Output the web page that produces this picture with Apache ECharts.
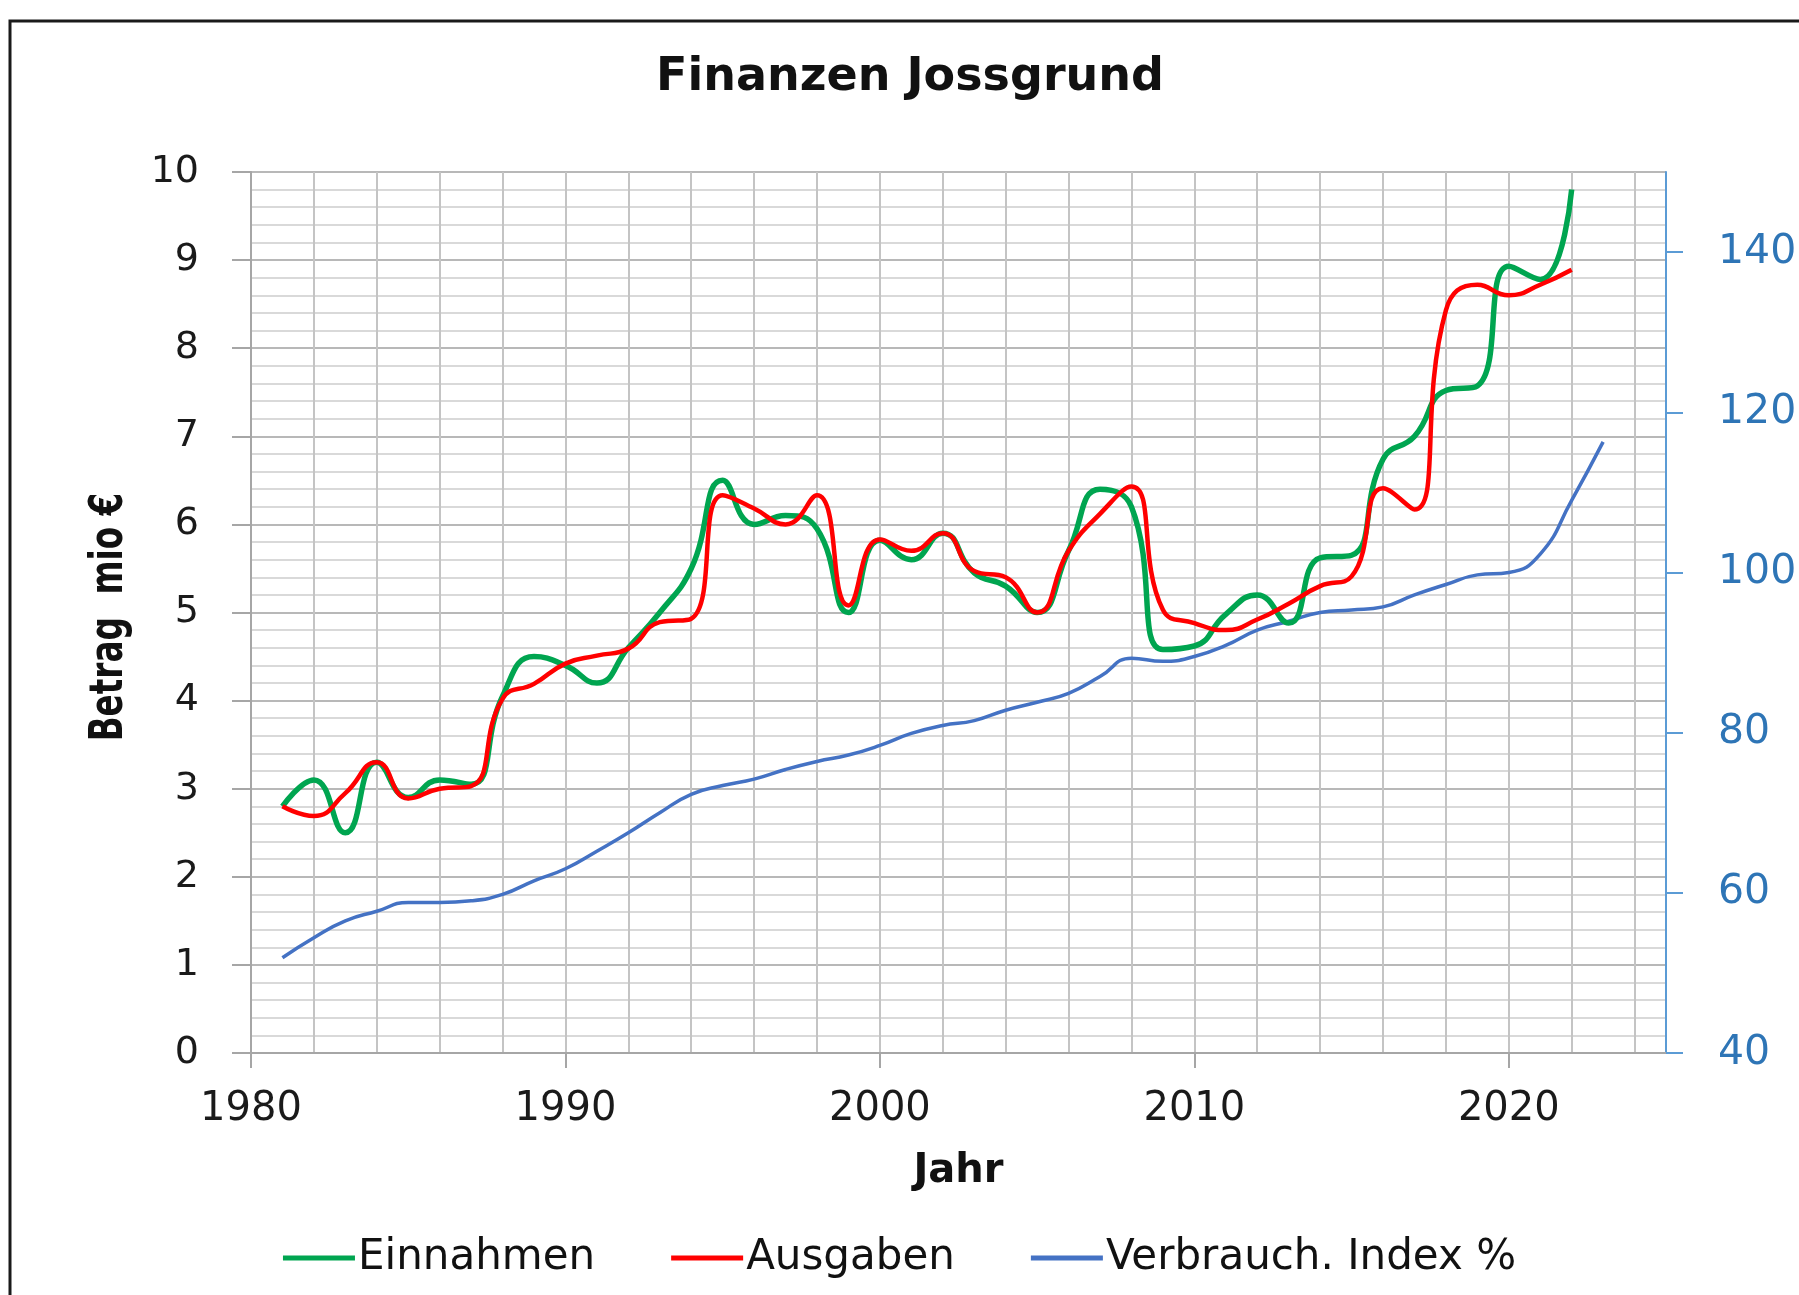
<!doctype html>
<html lang="de">
<head>
    <meta charset="UTF-8">
    <title>Finanzen Jossgrund</title>
    <style>
        html, body { margin: 0; padding: 0; background: #fff; }
        #chart { width: 1799px; height: 1295px; }
    </style>
</head>
<body>
    <div id="chart"></div>

    <script src="https://cdn.jsdelivr.net/npm/echarts@6/dist/echarts.min.js"></script>
    <script>
        // Jahre
        var jahre = [1981, 1982, 1983, 1984, 1985, 1986, 1987, 1988, 1989, 1990,
                     1991, 1992, 1993, 1994, 1995, 1996, 1997, 1998, 1999, 2000,
                     2001, 2002, 2003, 2004, 2005, 2006, 2007, 2008, 2009, 2010,
                     2011, 2012, 2013, 2014, 2015, 2016, 2017, 2018, 2019, 2020,
                     2021, 2022, 2023];

        // Betrag in mio € (1981 - 2022)
        var einnahmen = [2.8, 3.1, 2.5, 3.3, 2.9, 3.1, 3.05, 4.05, 4.5, 4.4,
                         4.2, 4.6, 5.0, 5.5, 6.5, 6.0, 6.1, 5.95, 5.0, 5.82,
                         5.6, 5.9, 5.45, 5.3, 5.0, 5.7, 6.4, 6.2, 4.58, 4.62,
                         4.98, 5.2, 4.88, 5.62, 5.65, 6.74, 7.0, 7.52, 7.57, 8.93,
                         8.78, 9.8];

        var ausgaben = [2.8, 2.69, 2.95, 3.3, 2.89, 3.0, 3.03, 4.02, 4.19, 4.42,
                        4.51, 4.59, 4.89, 4.93, 6.33, 6.18, 6.0, 6.33, 5.08, 5.83,
                        5.7, 5.9, 5.47, 5.4, 5.0, 5.7, 6.12, 6.43, 5.03, 4.88,
                        4.8, 4.92, 5.1, 5.3, 5.41, 6.41, 6.17, 8.43, 8.72, 8.6,
                        8.72, 8.89];

        // Verbraucherpreisindex % (1981 - 2023), rechte Achse
        var index = [51.9, 54.4, 56.5, 57.7, 58.8, 58.8, 59.0, 59.8, 61.5, 63.0,
                     65.2, 67.5, 70.0, 72.3, 73.4, 74.2, 75.4, 76.4, 77.2, 78.4,
                     79.9, 80.9, 81.5, 82.8, 83.8, 84.9, 87.0, 89.3, 88.9, 89.5,
                     90.9, 92.8, 93.9, 95.0, 95.3, 95.7, 97.2, 98.5, 99.7, 100.0,
                     102.3, 109.0, 116.3];

        // Achsenbeschriftungen
        var jahrLabels = [1980, 1990, 2000, 2010, 2020];
        var indexLabels = [40, 60, 80, 100, 120, 140];

        function paare(werte) {
            var out = [];
            for (var i = 0; i < werte.length; i++) {
                out.push([jahre[i], werte[i]]);
            }
            return out;
        }

        var font = 'DejaVu Sans';
        var myChart = echarts.init(document.getElementById('chart'));

        var option = {
            backgroundColor: '#fff',
            animation: false,
            title: {
                text: 'Finanzen Jossgrund',
                left: 905,
                textAlign: 'center',
                top: 50,
                textStyle: { fontFamily: font, fontSize: 46, fontWeight: 'bold', color: '#111' }
            },
            legend: {
                top: 1232,
                left: 'center',
                icon: 'rect',
                itemWidth: 72,
                itemHeight: 5,
                itemGap: 76,
                textStyle: { fontFamily: font, fontSize: 42, color: '#111', padding: [0, 0, 0, -2] },
                data: ['Einnahmen', 'Ausgaben', 'Verbrauch. Index %']
            },
            grid: {
                left: 251,
                right: 133,
                top: 172,
                bottom: 242,
                outerBoundsMode: 'none'
            },
            graphic: [
                {
                    type: 'rect',
                    z: -1,
                    shape: { x: 10, y: 21, width: 2000, height: 2000 },
                    style: { fill: 'none', stroke: '#1a1a1a', lineWidth: 3 }
                },
                {
                    type: 'text',
                    x: 110,
                    y: 617,
                    rotation: Math.PI / 2,
                    scaleX: 0.71,
                    style: {
                        text: 'Betrag  mio €',
                        fontFamily: font,
                        fontSize: 46,
                        fontWeight: 'bold',
                        fill: '#111',
                        align: 'center',
                        verticalAlign: 'middle'
                    }
                }
            ],
            xAxis: [
                {
                    // Gitterlinien alle 2 Jahre
                    type: 'value',
                    min: 1980,
                    max: 2025,
                    interval: 2,
                    axisLine: { show: false },
                    axisTick: { show: false },
                    axisLabel: { show: false },
                    splitLine: { show: true, lineStyle: { color: '#c4c4c4', width: 2 } }
                },
                {
                    type: 'value',
                    min: 1980,
                    max: 2025,
                    interval: 10,
                    position: 'bottom',
                    axisLine: { show: true, lineStyle: { color: '#a6a6a6', width: 2 } },
                    axisTick: { show: true, customValues: jahrLabels, length: 15, lineStyle: { color: '#a6a6a6', width: 2 } },
                    axisLabel: {
                        customValues: jahrLabels,
                        margin: 37,
                        fontFamily: font,
                        fontSize: 40,
                        color: '#1a1a1a',
                        formatter: function (v) { return String(v); }
                    },
                    splitLine: { show: false },
                    name: 'Jahr',
                    nameLocation: 'middle',
                    nameGap: 99,
                    nameTextStyle: { fontFamily: font, fontSize: 40, fontWeight: 'bold', color: '#111' }
                }
            ],
            yAxis: [
                {
                    type: 'value',
                    min: 0,
                    max: 10,
                    interval: 1,
                    axisLine: { show: true, lineStyle: { color: '#a6a6a6', width: 2 } },
                    axisTick: { show: true, length: 19, lineStyle: { color: '#a6a6a6', width: 2 } },
                    axisLabel: { margin: 52, fontFamily: font, fontSize: 38, color: '#1a1a1a' },
                    splitLine: { show: true, lineStyle: { color: '#b8b8b8', width: 2 } },
                    minorTick: { show: false, splitNumber: 5 },
                    minorSplitLine: { show: true, lineStyle: { color: '#d9d9d9', width: 2 } }
                },
                {
                    type: 'value',
                    min: 40,
                    max: 150,
                    interval: 20,
                    position: 'right',
                    axisLine: { show: true, lineStyle: { color: '#5b9bd5', width: 2 } },
                    axisTick: { show: true, customValues: indexLabels, length: 17, lineStyle: { color: '#5b9bd5', width: 2 } },
                    axisLabel: { customValues: indexLabels, margin: 52, fontFamily: font, fontSize: 41, color: '#2e75b6' },
                    splitLine: { show: false }
                }
            ],
            series: [
                {
                    name: 'Einnahmen',
                    type: 'line',
                    xAxisIndex: 0,
                    yAxisIndex: 0,
                    smooth: 0.5,
                    symbol: 'none',
                    color: '#00a550',
                    lineStyle: { color: '#00a550', width: 5.5 },
                    z: 4,
                    data: paare(einnahmen)
                },
                {
                    name: 'Ausgaben',
                    type: 'line',
                    xAxisIndex: 0,
                    yAxisIndex: 0,
                    smooth: 0.5,
                    symbol: 'none',
                    color: '#ff0000',
                    lineStyle: { color: '#ff0000', width: 4.5 },
                    z: 5,
                    data: paare(ausgaben)
                },
                {
                    name: 'Verbrauch. Index %',
                    type: 'line',
                    xAxisIndex: 0,
                    yAxisIndex: 1,
                    smooth: 0.5,
                    symbol: 'none',
                    color: '#4472c4',
                    lineStyle: { color: '#4472c4', width: 3.5 },
                    z: 3,
                    data: paare(index)
                }
            ]
        };

        myChart.setOption(option);
    </script>
</body>
</html>
